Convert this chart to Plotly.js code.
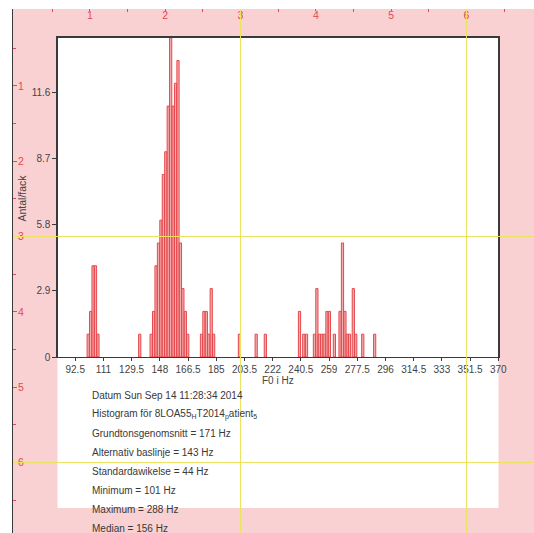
<!DOCTYPE html>
<html>
<head>
<meta charset="utf-8">
<script src="https://cdn.plot.ly/plotly-3.0.1.min.js"></script>
<style>html,body{margin:0;padding:0;background:#fff;}#chart{width:534px;height:533px;}</style>
</head>
<body>
<div id="chart"></div>
<script>
// ---- Data ----
const binCenters = [
  101.0, 102.6, 104.2, 105.8, 107.4,
  134.8,
  142.3, 143.9, 145.5, 147.1, 148.7, 150.3, 151.9, 153.5, 155.1, 156.7, 158.3, 159.9, 161.5, 163.1, 164.7, 166.3,
  175.3, 176.9, 178.5, 180.1, 181.7, 183.3,
  200.2, 211.2, 217.2,
  239.6, 242.4, 244.2,
  249.4, 251.0, 252.6, 254.2, 255.8, 257.6, 259.2,
  262.5,
  266.2, 267.8, 269.4, 270.9, 272.4,
  274.9, 276.5, 281.1, 288.9
];
const binCounts = [
  1, 2, 4, 4, 1,
  1,
  1, 2, 4, 5, 6, 8, 9, 11, 14, 11, 12, 13, 5, 3, 2, 1,
  1, 2, 2, 1, 3, 1,
  1, 1, 1,
  2, 1, 1,
  1, 3, 1, 1, 1, 2, 2,
  1,
  2, 5, 2, 1, 1,
  3, 1, 1, 1
];
const xTickVals = [92.5, 111, 129.5, 148, 166.5, 185, 203.5, 222, 240.5, 259, 277.5, 296, 314.5, 333, 351.5, 370];
const xTickText = ["92.5", "111", "129.5", "148", "166.5", "185", "203.5", "222", "240.5", "259", "277.5", "296", "314.5", "333", "351.5", "370"];
const yTickVals = [0, 2.9, 5.8, 8.7, 11.6];
const yTickText = ["0", "2.9", "5.8", "8.7", "11.6"];
const xTitle = "F0 i Hz";
const yTitle = "Antal/fack";
const rulerVals = [1, 2, 3, 4, 5, 6];
const rulerText = ["1", "2", "3", "4", "5", "6"];
const rulerMinor = [0.5, 1.5, 2.5, 3.5, 4.5, 5.5, 6.5];
const rulerGrid = [3, 6];
const infoLines = [
  "Datum Sun Sep 14 11:28:34 2014",
  "Histogram för 8LOA55<sub>H</sub>T2014<sub>p</sub>atient<sub>5</sub>",
  "Grundtonsgenomsnitt = 171 Hz",
  "Alternativ baslinje = 143 Hz",
  "Standardawikelse = 44 Hz",
  "Minimum = 101 Hz",
  "Maximum = 288 Hz",
  "Median = 156 Hz"
];

// ---- Layout helpers ----
const FONT = "Arial, 'Liberation Sans', sans-serif";
const PINK = "#f9d1d2";
const RED = "#e5484d";
const YEL = "#ece35e";
const DARK = "#3a3a3a";
const ML = 13, MT = 9, PW = 521, PH = 524;
const px2x = p => (p - ML) / PW;
const py2y = p => (MT + PH - p) / PH;
const UNIT = 75.33, RX0 = 14.5, RY0 = 10.5;

const shapes = [
  {type: "rect", xref: "paper", yref: "paper", x0: 0, x1: 1, y0: 0, y1: 1,
   fillcolor: PINK, line: {width: 0}, layer: "below"},
  {type: "rect", xref: "paper", yref: "paper", x0: px2x(57.5), x1: px2x(498.5), y0: py2y(508), y1: py2y(37.5),
   fillcolor: "#ffffff", line: {width: 0}, layer: "below"}
];
rulerGrid.forEach(v => {
  shapes.push({type: "line", xref: "x2", yref: "paper", x0: v, x1: v, y0: 0, y1: 1,
    line: {color: YEL, width: 1}, layer: "above"});
  shapes.push({type: "line", xref: "paper", yref: "y2", x0: 0, x1: 1, y0: v, y1: v,
    line: {color: YEL, width: 1}, layer: "above"});
});

const annotations = infoLines.map((t, i) => ({
  text: t, xref: "paper", yref: "paper", x: px2x(90), y: py2y(395.5 + i * 18.95),
  xanchor: "left", yanchor: "middle", showarrow: false,
  font: {family: FONT, size: 10, color: "#383838"}
}));
annotations.push({text: xTitle, xref: "paper", yref: "paper", x: px2x(278), y: py2y(380.5),
  xanchor: "center", yanchor: "middle", showarrow: false,
  font: {family: FONT, size: 10, color: "#444"}});
annotations.push({text: yTitle, xref: "paper", yref: "paper", x: px2x(21.5), y: py2y(198),
  xanchor: "center", yanchor: "middle", textangle: -90, showarrow: false,
  font: {family: FONT, size: 10.5, color: "#444"}});

const data = [
  {type: "bar", x: binCenters, y: binCounts, width: 1.45, xaxis: "x", yaxis: "y",
   marker: {color: "rgba(240,140,140,0.7)", line: {color: RED, width: 1}}, hoverinfo: "x+y"},
  {type: "scatter", x: [], y: [], xaxis: "x2", yaxis: "y2", showlegend: false, hoverinfo: "skip"}
];

const layout = {
  width: 534, height: 533,
  margin: {l: ML, r: 0, t: MT, b: 0, pad: 0},
  paper_bgcolor: "#ffffff", plot_bgcolor: "rgba(0,0,0,0)",
  showlegend: false, bargap: 0,
  font: {family: FONT, size: 10, color: "#333"},
  xaxis: {
    domain: [px2x(57.7), px2x(498.3)], range: [81, 370], anchor: "y",
    tickmode: "array", tickvals: xTickVals, ticktext: xTickText,
    ticks: "outside", ticklen: 3, tickcolor: DARK, tickwidth: 1,
    showline: true, linecolor: DARK, linewidth: 1.3, mirror: true,
    showgrid: false, zeroline: false,
    tickfont: {family: FONT, size: 10, color: "#444"}
  },
  yaxis: {
    domain: [py2y(357), py2y(37.7)], range: [0, 14], anchor: "x",
    tickmode: "array", tickvals: yTickVals, ticktext: yTickText,
    ticks: "outside", ticklen: 4, tickcolor: DARK, tickwidth: 1,
    showline: true, linecolor: DARK, linewidth: 1.3, mirror: true,
    showgrid: false, zeroline: false,
    tickfont: {family: FONT, size: 10, color: "#444"}
  },
  xaxis2: {
    domain: [0, 1], range: [(ML - RX0) / UNIT, (ML + PW - RX0) / UNIT], anchor: "y2", side: "top",
    tickmode: "array", tickvals: rulerVals, ticktext: rulerText,
    ticks: "inside", ticklen: 2, tickcolor: RED, ticklabelposition: "inside",
    minor: {tickmode: "array", tickvals: rulerMinor, ticks: "inside", ticklen: 3, tickcolor: RED},
    showline: false, showgrid: false, zeroline: false,
    tickfont: {family: FONT, size: 10.5, color: RED}
  },
  yaxis2: {
    domain: [0, 1], range: [(MT + PH - RY0) / UNIT, (MT - RY0) / UNIT], anchor: "x2", side: "left",
    tickmode: "array", tickvals: rulerVals, ticktext: rulerText,
    ticks: "inside", ticklen: 4, tickcolor: RED, ticklabelposition: "inside",
    minor: {tickmode: "array", tickvals: rulerMinor, ticks: "inside", ticklen: 3, tickcolor: RED},
    showline: true, linecolor: DARK, linewidth: 1.3, showgrid: false, zeroline: false,
    tickfont: {family: FONT, size: 10.5, color: RED}
  },
  shapes: shapes,
  annotations: annotations
};

Plotly.newPlot("chart", data, layout, {staticPlot: true, displayModeBar: false});
</script>
</body>
</html>
